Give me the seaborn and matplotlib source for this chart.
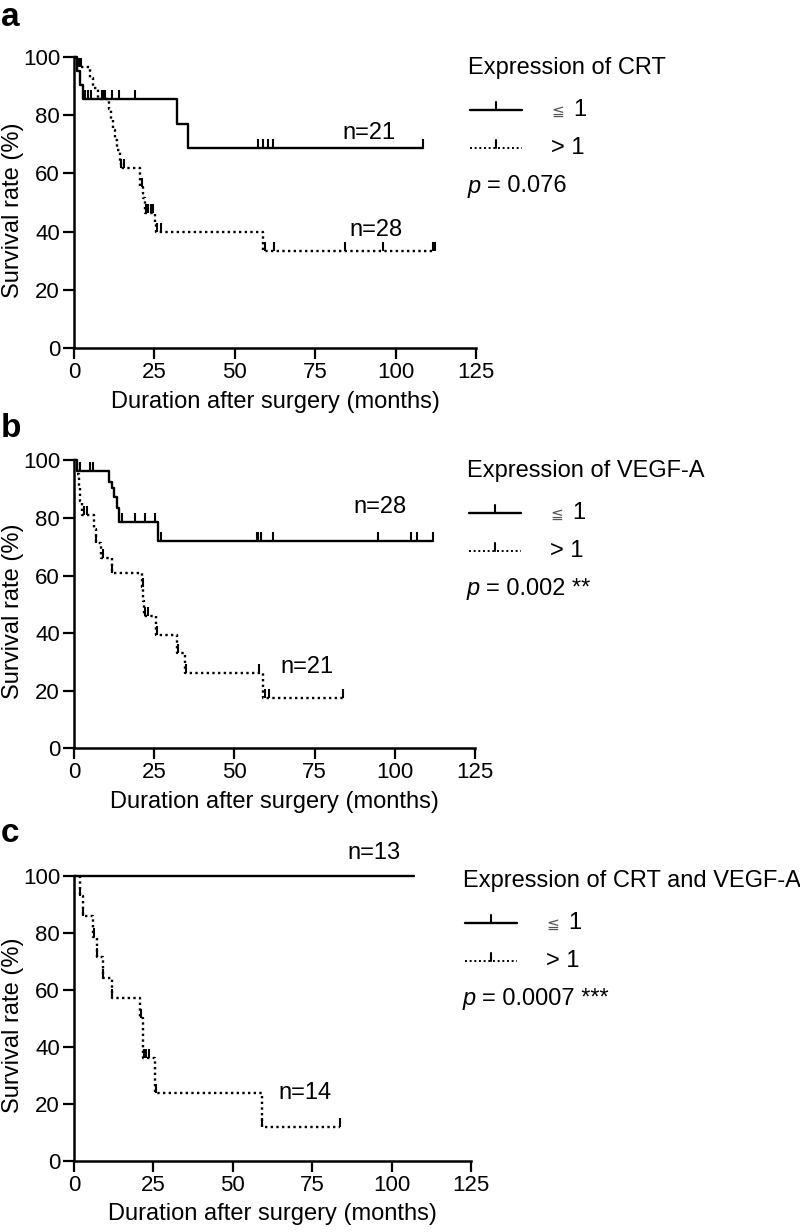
import matplotlib

matplotlib.use("Agg")
import matplotlib.pyplot as plt  # noqa: E402
import numpy as np  # noqa: E402
import pandas as pd  # noqa: E402
import seaborn as sns  # noqa: E402
from matplotlib.lines import Line2D  # noqa: E402

# ---- data (months, survival %) ----
# panel a: CRT
a_lo_times = [0, 0.8, 1.8, 2.8, 32.1, 35.3]
a_lo_surv = [100, 95.2, 90.5, 85.7, 77.1, 68.6]
a_lo_end = 108.4
a_lo_cens = [1.0, 3.5, 4.3, 5.3, 8.8, 11.8, 14.0, 19.0, 57.3, 58.8, 60.3, 62.0, 108.4]

a_hi_times = [0, 1.2, 5.0, 6.0, 7.5, 10.8, 11.5, 12.2, 12.8, 13.5, 14.2, 14.6,
              20.5, 21.5, 22.0, 25.2, 25.6, 58.8]
a_hi_surv = [100, 96.4, 92.9, 89.3, 85.7, 82.1, 78.6, 75.0, 71.4, 67.9, 64.3, 61.9,
             55.4, 51.5, 46.4, 43.0, 39.9, 33.3]
a_hi_end = 112.2
a_hi_cens = [1.5, 2.2, 9.0, 9.6, 14.6, 15.4, 21.0, 22.3, 23.0, 23.8, 24.6, 25.8, 27.0,
             59.4, 62.2, 84.2, 96.2, 111.5, 112.2]

# panel b: VEGF-A
b_lo_times = [0, 1.0, 11.0, 11.7, 12.5, 13.3, 14.1, 26.3]
b_lo_surv = [100, 96.4, 92.6, 90.4, 87.4, 83.4, 78.7, 72.0]
b_lo_end = 112.0
b_lo_cens = [1.9, 5.0, 6.0, 14.9, 19.0, 22.1, 25.2, 27.0, 57.0, 57.5, 58.2, 62.0,
             94.9, 105.1, 106.9, 112.0]

b_hi_times = [0, 1.0, 1.5, 2.0, 2.5, 6.3, 6.8, 8.5, 11.7, 21.1, 21.5, 21.8, 25.5,
              32.0, 34.6, 59.0]
b_hi_surv = [100, 95.2, 90.5, 85.7, 81.0, 76.2, 71.4, 66.2, 60.7, 56.1, 51.0, 46.0,
             39.3, 33.0, 26.2, 17.4]
b_hi_end = 84.0
b_hi_cens = [3.0, 3.9, 6.9, 9.1, 11.9, 21.4, 22.1, 23.2, 25.8, 32.3, 34.9, 57.8,
             59.4, 60.9, 84.0]

# panel c: CRT and VEGF-A
c_lo_times = [0]
c_lo_surv = [100]
c_lo_end = 107.1
c_lo_cens = []

c_hi_times = [0, 1.9, 2.7, 6.1, 7.1, 9.0, 11.9, 20.8, 21.8, 25.5, 59.1]
c_hi_surv = [100, 92.9, 85.7, 78.6, 71.4, 64.3, 57.1, 50.0, 36.1, 23.8, 11.9]
c_hi_end = 83.8
c_hi_cens = [2.0, 2.9, 6.2, 7.2, 9.1, 12.0, 21.0, 22.0, 22.8, 23.5, 25.9, 59.3, 83.8]

panel_letters = ["a", "b", "c"]
legend_titles = ["Expression of CRT", "Expression of VEGF-A", "Expression of CRT and VEGF-A"]
p_values = ["= 0.076", "= 0.002 **", "= 0.0007 ***"]
n_labels = [("n=21", "n=28"), ("n=28", "n=21"), ("n=13", "n=14")]
n_label_pos = [((83.6, 73.9), (85.8, 40.5)), ((87.0, 83.8), (64.2, 28.2)),
               ((86.0, 108.0), (64.3, 23.8))]
x_ticks = [0, 25, 50, 75, 100, 125]
y_ticks = [0, 20, 40, 60, 80, 100]

W, H = 800, 1232
FONT = ["Liberation Sans", "DejaVu Sans"]
DOT = (0, (1.0, 1.4))

sns.set_style("ticks")
plt.rcParams["font.family"] = FONT
plt.rcParams["axes.linewidth"] = 1.8
plt.rcParams["text.color"] = "black"
plt.rcParams["axes.labelcolor"] = "black"
plt.rcParams["axes.edgecolor"] = "black"
plt.rcParams["xtick.color"] = "black"
plt.rcParams["ytick.color"] = "black"


def fx(px):
    return px / W


def fy(py):
    return 1 - py / H


def km_frame(times, surv, end):
    return pd.DataFrame({"t": list(times) + [end], "s": list(surv) + [surv[-1]]})


def level_at(times, surv, t):
    idx = np.searchsorted(np.asarray(times), np.asarray(t), side="right") - 1
    return np.asarray(surv)[idx]


def draw_curve(ax, times, surv, end, cens, dotted):
    df = km_frame(times, surv, end)
    sns.lineplot(data=df, x="t", y="s", ax=ax, color="black", lw=1.7,
                 drawstyle="steps-post", estimator=None, sort=False,
                 linestyle=DOT if dotted else "-", clip_on=False)
    if len(cens):
        cdf = pd.DataFrame({"t": cens, "s": level_at(times, surv, cens)})
        sns.scatterplot(data=cdf, x="t", y="s", ax=ax, marker=2, s=40,
                        color="black", edgecolor="black", linewidth=1.5,
                        clip_on=False, zorder=3)


fig = plt.figure(figsize=(W / 100, H / 100), dpi=100)

rects = [(74, 57, 402, 291), (74, 460.3, 401, 288), (74, 875.7, 397, 285.3)]
curves = [
    ((a_lo_times, a_lo_surv, a_lo_end, a_lo_cens), (a_hi_times, a_hi_surv, a_hi_end, a_hi_cens)),
    ((b_lo_times, b_lo_surv, b_lo_end, b_lo_cens), (b_hi_times, b_hi_surv, b_hi_end, b_hi_cens)),
    ((c_lo_times, c_lo_surv, c_lo_end, c_lo_cens), (c_hi_times, c_hi_surv, c_hi_end, c_hi_cens)),
]
# legend anchor (left x, title centre y) in pixels
legend_anchor = [(468, 68), (467, 471), (463, 881)]
letter_base = [26, 437, 842]

for i, (px0, py0, pw, ph) in enumerate(rects):
    ax = fig.add_axes([fx(px0), fy(py0 + ph), pw / W, ph / H])
    lo, hi = curves[i]
    draw_curve(ax, *lo, dotted=False)
    draw_curve(ax, *hi, dotted=True)

    ax.set_xlim(0, 125)
    ax.set_ylim(0, 100)
    ax.set_xticks(x_ticks)
    ax.set_yticks(y_ticks)
    ax.tick_params(length=8, width=1.6, labelsize=16, pad=2, colors="black")
    sns.despine(ax=ax)
    ax.set_xlabel("Duration after surgery (months)", fontsize=17)
    ax.set_ylabel("Survival rate (%)", fontsize=17)
    ax.xaxis.set_label_coords(0.5, -0.148)
    ax.yaxis.set_label_coords(-0.125, 0.475)

    for lab, (tx, ty) in zip(n_labels[i], n_label_pos[i]):
        ax.text(tx, ty, lab, fontsize=17, va="center", ha="left", clip_on=False)

    fig.text(fx(1), fy(letter_base[i]), panel_letters[i], fontsize=24,
             fontweight="bold", va="baseline", ha="left")

    lx, ly = legend_anchor[i]
    fig.text(fx(lx), fy(ly), legend_titles[i], fontsize=17, va="center", ha="left")
    rows = [ly + 42, ly + 80]
    for j, ry in enumerate(rows):
        fig.add_artist(Line2D([fx(lx + 2), fx(lx + 54)], [fy(ry), fy(ry)],
                              color="black", lw=1.7 if j == 0 else 1.4,
                              linestyle="-" if j == 0 else DOT,
                              transform=fig.transFigure))
        fig.add_artist(Line2D([fx(lx + 28), fx(lx + 28)], [fy(ry), fy(ry - 8)],
                              color="black", lw=1.5, transform=fig.transFigure))
    fig.text(fx(lx + 83), fy(rows[0] + 1), "\u2266", fontsize=11, color="#555555",
             va="center", ha="left", family=["DejaVu Sans", "Noto Sans CJK JP"])
    fig.text(fx(lx + 105), fy(rows[0]), "1", fontsize=17, va="center", ha="left")
    fig.text(fx(lx + 83), fy(rows[1]), "> 1", fontsize=17, va="center", ha="left")
    fig.text(fx(lx), fy(ly + 118), "p", fontsize=17, style="italic",
             va="center", ha="left")
    fig.text(fx(lx + 19), fy(ly + 118), p_values[i], fontsize=17,
             va="center", ha="left")

fig.savefig("out.png", dpi=100)
